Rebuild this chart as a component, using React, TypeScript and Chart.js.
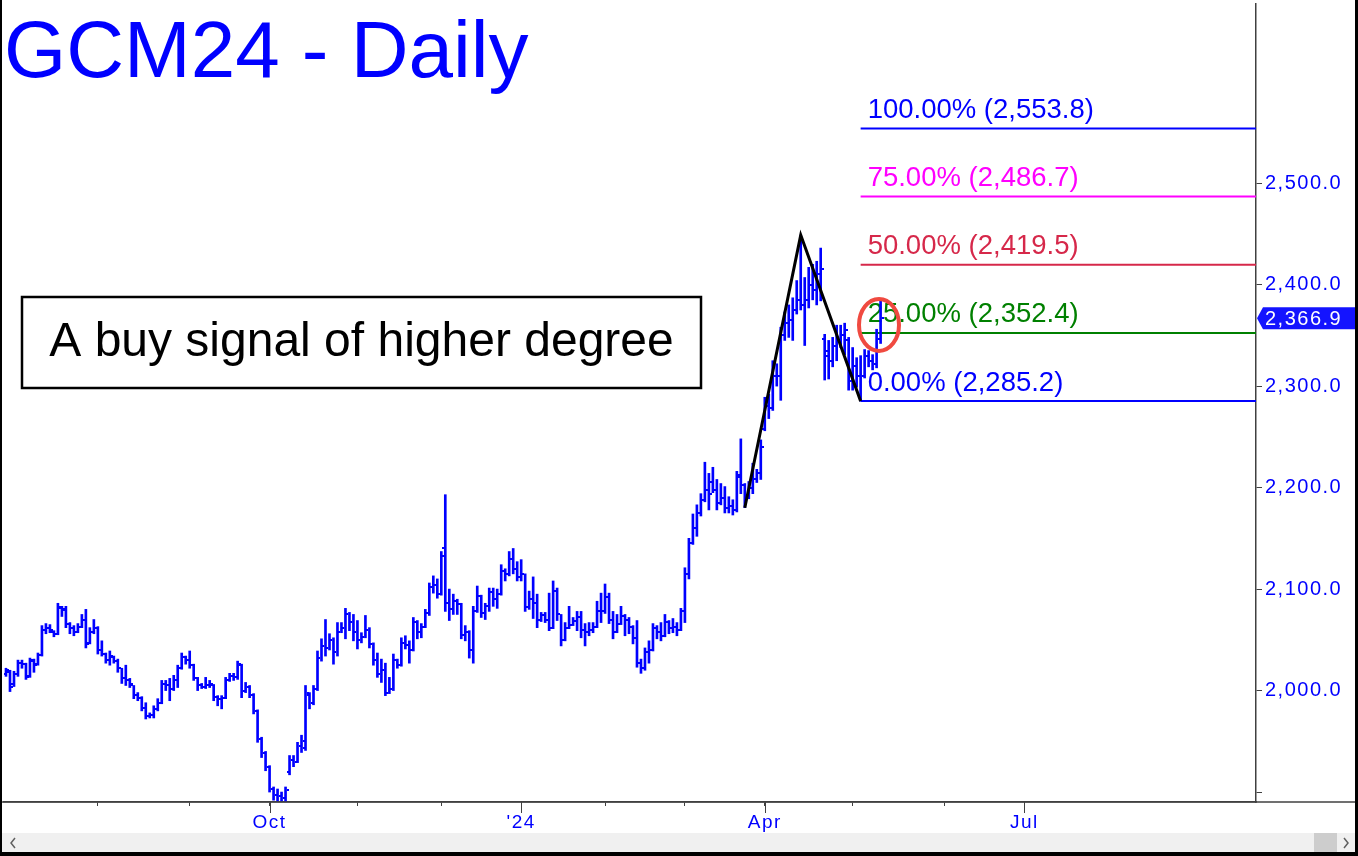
import React, { useEffect, useRef } from 'react';
import { Chart, registerables } from 'chart.js';

Chart.register(...registerables);

const BLUE = '#0000ff';
const AXIS = '#404040';

// Daily OHLC bars, index 0 = 2023-06-28 ... index 219 = 2024-05-10
const opens = [
  2016,2018,2006,2016,2027,2026,2014,2029,2026,2035,
  2060,2062,2058,2056,2081,2079,2066,2062,2058,2063,
  2070,2047,2058,2062,2040,2036,2030,2033,2029,2022,
  2012,2010,2005,1996,1993,1983,1975,1976,1982,1988,
  2006,2005,2002,2010,2022,2033,2030,2025,2012,2005,
  2004,2005,2005,1994,1992,1993,2010,2014,2013,2025,
  2000,2004,1996,1980,1952,1938,1925,1903,1897,1896,
  1894,1920,1932,1930,1945,1943,1996,1988,2002,2032,
  2044,2042,2050,2038,2058,2062,2075,2068,2058,2050,
  2053,2060,2046,2030,2016,2020,1998,2002,2030,2025,
  2047,2045,2040,2068,2058,2063,2076,2102,2104,2095,
  2140,2086,2080,2088,2085,2055,2058,2040,2078,2093,
  2076,2083,2097,2090,2095,2118,2115,2130,2120,2112,
  2115,2082,2090,2086,2070,2074,2070,2062,2098,2075,
  2050,2062,2065,2069,2072,2060,2058,2060,2063,2078,
  2078,2092,2070,2058,2066,2073,2070,2063,2052,2027,
  2022,2038,2040,2062,2058,2054,2068,2062,2063,2060,
  2078,2115,2145,2160,2175,2188,2198,2206,2198,2185,
  2190,2180,2182,2178,2212,2203,2190,2200,2208,2214,
  2258,2280,2278,2310,2310,2350,2362,2365,2375,2385,
  2380,2385,2400,2395,2410,2346,2330,2325,2340,2345,
  2350,2345,2305,2320,2310,2310,2330,2325,2322,2346,
];
const highs = [
  2022,2020,2019,2030,2030,2027,2032,2031,2037,2064,
  2066,2065,2059,2086,2083,2083,2067,2064,2066,2075,
  2080,2062,2070,2063,2049,2037,2039,2034,2031,2022,
  2025,2012,2005,1998,1994,1988,1978,1985,1992,2010,
  2010,2012,2015,2025,2037,2034,2039,2026,2013,2007,
  2013,2010,2006,1995,1995,2013,2017,2017,2029,2026,
  2008,2005,1997,1981,1954,1940,1926,1905,1903,1900,
  1905,1936,1936,1949,1956,2005,1998,2005,2039,2051,
  2070,2056,2052,2067,2067,2081,2077,2075,2069,2057,
  2074,2062,2047,2037,2031,2027,2013,2036,2031,2052,
  2054,2049,2072,2069,2066,2080,2106,2113,2110,2137,
  2193,2100,2095,2090,2086,2064,2059,2083,2103,2094,
  2086,2101,2101,2100,2124,2120,2137,2140,2127,2129,
  2115,2098,2112,2095,2077,2077,2096,2108,2101,2075,
  2067,2083,2072,2078,2078,2066,2067,2067,2088,2096,
  2105,2096,2078,2075,2083,2075,2072,2064,2069,2031,
  2042,2049,2066,2064,2067,2075,2069,2071,2067,2081,
  2121,2150,2174,2183,2194,2225,2214,2220,2208,2204,
  2201,2191,2188,2216,2248,2204,2206,2224,2218,2247,
  2289,2292,2325,2322,2358,2373,2380,2387,2404,2448.8,
  2407,2417,2420,2423,2436,2351,2345,2348,2360,2360,
  2362,2348,2338,2328,2330,2336,2335,2331,2356,2385,
];
const lows = [
  2014,1999,2004,2014,2022,2011,2013,2018,2025,2034,
  2056,2057,2053,2055,2073,2062,2056,2054,2057,2062,
  2042,2046,2056,2036,2034,2027,2025,2027,2018,2007,
  2005,2003,1992,1990,1980,1972,1973,1973,1980,1987,
  2000,1990,2000,2003,2021,2026,2022,2010,2000,2002,
  2002,2003,1990,1985,1982,1992,2009,2010,2011,1993,
  1998,1993,1977,1949,1934,1921,1900,1892,1891,1891,
  1890,1917,1925,1929,1939,1941,1982,1986,2000,2029,
  2034,2040,2026,2034,2057,2051,2059,2049,2041,2047,
  2052,2042,2025,2013,2008,1995,1997,2000,2022,2024,
  2041,2027,2039,2051,2052,2062,2074,2096,2091,2094,
  2078,2069,2075,2075,2051,2049,2032,2027,2077,2072,
  2070,2078,2083,2081,2094,2108,2113,2115,2108,2108,
  2078,2080,2071,2062,2068,2067,2059,2061,2069,2044,
  2049,2061,2064,2059,2052,2044,2054,2057,2062,2067,
  2076,2066,2051,2057,2065,2054,2056,2046,2023,2017,
  2020,2027,2039,2051,2049,2053,2056,2057,2054,2059,
  2067,2110,2144,2152,2172,2186,2178,2195,2178,2183,
  2175,2175,2173,2176,2194,2180.2,2189,2194,2205,2208,
  2256,2268,2276,2300,2286,2345,2348,2345,2371,2375,
  2340,2377,2385,2380,2384,2306,2307,2319,2325,2338,
  2331,2296,2296,2299,2285.2,2308,2319,2316,2318,2342,
];
const closes = [
  2020,2004,2016,2027,2026,2013,2030,2025,2035,2060,
  2062,2060,2056,2082,2080,2066,2062,2058,2063,2070,
  2046,2058,2062,2040,2036,2030,2034,2029,2022,2012,
  2010,2006,1996,1993,1983,1975,1976,1982,1988,2006,
  2005,2002,2010,2022,2033,2030,2025,2012,2005,2004,
  2005,2006,1994,1992,1993,2010,2014,2013,2026,2000,
  2004,1996,1980,1952,1938,1925,1903,1897,1896,1894,
  1902,1932,1930,1945,1950,1998,1988,2002,2032,2044,
  2042,2050,2038,2058,2062,2075,2068,2058,2050,2053,
  2060,2046,2030,2016,2020,1998,2002,2030,2025,2047,
  2045,2040,2068,2058,2063,2076,2102,2104,2095,2133,
  2086,2080,2088,2085,2055,2058,2040,2078,2093,2076,
  2083,2097,2090,2095,2118,2115,2130,2120,2112,2115,
  2082,2090,2086,2070,2074,2070,2062,2098,2075,2050,
  2062,2065,2069,2072,2060,2058,2060,2063,2078,2078,
  2092,2070,2058,2066,2073,2070,2063,2052,2027,2022,
  2038,2040,2062,2058,2054,2068,2062,2063,2060,2078,
  2115,2145,2160,2175,2188,2198,2194,2198,2185,2190,
  2180,2182,2178,2210,2203,2190,2200,2208,2214,2240,
  2280,2278,2310,2310,2350,2362,2365,2375,2385,2380,
  2385,2400,2395,2410,2415,2335,2325,2340,2345,2350,
  2355,2305,2320,2310,2310,2330,2325,2322,2346,2366.9,
];

// x axis: month starts (trading-day index) and their labels
const monthTickIdx = [23, 46, 66, 88, 109, 129, 150, 170, 190, 212, 235, 255];
const monthTickLabels = ['', '', 'Oct', '', '', "'24", '', '', 'Apr', '', '', 'Jul'];
const yTickValues = [1900, 2000, 2100, 2200, 2300, 2400, 2500];

// Fibonacci-style target levels
const fibPct = ['100.00%', '75.00%', '50.00%', '25.00%', '0.00%'];
const fibVal = [2553.8, 2486.7, 2419.5, 2352.4, 2285.2];
const fibColor = ['#0000ff', '#ff00ff', '#d6284a', '#008000', '#0000ff'];
const FIB_START = 214;

// ABC swing line
const zigIdx = [185, 199, 214];
const zigVal = [2180.2, 2448.8, 2285.2];

const lastPrice = 2366.9;
const ellipseIdx = 218.6;
const ellipseVal = 2360.3;

const titleText = 'GCM24 - Daily';
const boxText = 'A buy signal of higher degree';

const X_MIN = -0.5;
const X_MAX = 313;
const Y_MIN = 1890.2;
const Y_MAX = 2676.5;

const fmt = (v: number) =>
  v.toLocaleString('en-US', { minimumFractionDigits: 1, maximumFractionDigits: 1 });

export default function App() {
  const ref = useRef<HTMLCanvasElement>(null);

  useEffect(() => {
    document.body.style.margin = '0';
    const canvas = ref.current;
    if (!canvas) return;

    const mkTick = (left: boolean) => {
      const c = document.createElement('canvas');
      c.width = 6;
      c.height = 2;
      const g = c.getContext('2d')!;
      g.fillStyle = BLUE;
      g.fillRect(left ? 0 : 4, 0, 2, 2);
      return c;
    };
    const openImg = mkTick(true);
    const closeImg = mkTick(false);

    const overlay = {
      id: 'overlay',
      beforeDraw(chart: any) {
        // axis tick labels are drawn a little wider-spaced, as in the original
        chart.ctx.letterSpacing = '1.5px';
      },
      beforeDatasetsDraw(chart: any) {
        const { ctx, scales } = chart;
        ctx.letterSpacing = '0px';
        const x = scales.x;
        const y = scales.y;
        ctx.save();
        ctx.font = '27.5px "Liberation Sans"';
        ctx.textBaseline = 'alphabetic';
        ctx.textAlign = 'left';
        fibVal.forEach((v, k) => {
          ctx.fillStyle = fibColor[k];
          ctx.fillText(`${fibPct[k]} (${fmt(v)})`, x.getPixelForValue(FIB_START) + 7, y.getPixelForValue(v) - 10.5);
        });
        ctx.restore();
        ctx.imageSmoothingEnabled = false;
      },
      afterDatasetsDraw(chart: any) {
        const { ctx, scales } = chart;
        const cx = scales.x.getPixelForValue(ellipseIdx);
        const cy = scales.y.getPixelForValue(ellipseVal);
        ctx.save();
        ctx.strokeStyle = '#f04a40';
        ctx.lineWidth = 4;
        ctx.beginPath();
        ctx.ellipse(cx, cy, 20, 26, 0, 0, Math.PI * 2);
        ctx.stroke();
        ctx.restore();
      },
      afterDraw(chart: any) {
        const { ctx, scales, chartArea } = chart;
        const x = scales.x;
        const y = scales.y;
        const W = chart.width;
        const H = chart.height;
        ctx.save();
        ctx.letterSpacing = '0px';
        // axis line extension to the right edge
        ctx.strokeStyle = AXIS;
        ctx.lineWidth = 1.5;
        ctx.beginPath();
        ctx.moveTo(0, chartArea.bottom);
        ctx.lineTo(W, chartArea.bottom);
        ctx.stroke();
        // longer ticks for labelled months
        ctx.lineWidth = 1;
        monthTickIdx.forEach((m, k) => {
          if (!monthTickLabels[k]) return;
          const px = Math.round(x.getPixelForValue(m)) + 0.5;
          ctx.beginPath();
          ctx.moveTo(px, chartArea.bottom);
          ctx.lineTo(px, chartArea.bottom + 11);
          ctx.stroke();
        });
        // title
        ctx.fillStyle = BLUE;
        ctx.font = '80px "Liberation Sans"';
        ctx.textAlign = 'left';
        ctx.textBaseline = 'alphabetic';
        ctx.fillText(titleText, 4, 77);
        // comment box
        ctx.fillStyle = '#ffffff';
        ctx.fillRect(22, 297, 679, 91);
        ctx.strokeStyle = '#000000';
        ctx.lineWidth = 2.5;
        ctx.strokeRect(22, 297, 679, 91);
        ctx.fillStyle = '#000000';
        ctx.font = '48px "Liberation Sans"';
        ctx.textAlign = 'center';
        ctx.fillText(boxText, 361.5, 356);
        // last price tag
        const ty = y.getPixelForValue(lastPrice);
        const ax = chartArea.right + 1;
        ctx.fillStyle = '#1414ff';
        ctx.beginPath();
        ctx.moveTo(ax, ty);
        ctx.lineTo(ax + 6, ty - 11);
        ctx.lineTo(W - 3, ty - 11);
        ctx.lineTo(W - 3, ty + 11);
        ctx.lineTo(ax + 6, ty + 11);
        ctx.closePath();
        ctx.fill();
        ctx.fillStyle = '#ffffff';
        ctx.font = '20px "Liberation Sans"';
        ctx.letterSpacing = '1.5px';
        ctx.textAlign = 'left';
        ctx.textBaseline = 'middle';
        ctx.fillText(fmt(lastPrice), ax + 8, ty + 1);
        ctx.letterSpacing = '0px';
        // scroll bar
        ctx.fillStyle = '#f0f0f0';
        ctx.fillRect(2, 833, W - 5, 20);
        ctx.fillStyle = '#cdcdcd';
        ctx.fillRect(1314, 833, 23, 20);
        ctx.strokeStyle = '#606060';
        ctx.lineWidth = 1.5;
        ctx.beginPath();
        ctx.moveTo(15, 838); ctx.lineTo(11, 843); ctx.lineTo(15, 848);
        ctx.moveTo(1344, 838); ctx.lineTo(1348, 843); ctx.lineTo(1344, 848);
        ctx.stroke();
        // outer frame
        ctx.fillStyle = '#000000';
        ctx.fillRect(0, 0, 2, H);
        ctx.fillRect(W - 3, 0, 3, H);
        ctx.fillRect(0, H - 4, W, 4);
        ctx.restore();
      },
    };

    const chart = new Chart(canvas, {
      type: 'bar',
      data: {
        datasets: [
          ...fibVal.map((v, k) => ({
            type: 'line' as const,
            data: [{ x: FIB_START, y: v }, { x: X_MAX, y: v }],
            borderColor: fibColor[k],
            borderWidth: 2,
            pointRadius: 0,
            order: 10,
          })),
          {
            type: 'bar' as const,
            data: highs.map((h, i) => ({ x: i, y: [lows[i], h] })),
            backgroundColor: BLUE,
            borderWidth: 0,
            barThickness: 2,
            order: 5,
          },
          {
            type: 'scatter' as const,
            data: opens.map((o, i) => ({ x: i, y: o })),
            pointStyle: openImg,
            pointRadius: 3,
            pointHoverRadius: 3,
            order: 4,
          },
          {
            type: 'scatter' as const,
            data: closes.map((c, i) => ({ x: i, y: c })),
            pointStyle: closeImg,
            pointRadius: 3,
            pointHoverRadius: 3,
            order: 4,
          },
          {
            type: 'line' as const,
            data: zigIdx.map((ix, k) => ({ x: ix, y: zigVal[k] })),
            borderColor: '#000000',
            borderWidth: 3,
            pointRadius: 0,
            tension: 0,
            order: 1,
          },
        ] as any,
      },
      options: {
        animation: false,
        responsive: false,
        devicePixelRatio: 1,
        events: [],
        layout: { padding: { left: 2, right: 0, top: 0, bottom: 0 } },
        plugins: {
          legend: { display: false },
          tooltip: { enabled: false },
          title: { display: false },
        },
        scales: {
          x: {
            type: 'linear',
            position: 'bottom',
            min: X_MIN,
            max: X_MAX,
            offset: false,
            grid: { display: true, drawOnChartArea: false, drawTicks: true, tickLength: 4, color: AXIS, offset: false },
            border: { display: true, color: AXIS, width: 1.5 },
            ticks: {
              autoSkip: false,
              maxRotation: 0,
              minRotation: 0,
              padding: 5,
              color: BLUE,
              font: { family: '"Liberation Sans"', size: 19 },
              callback: (_v: any, idx: number) => monthTickLabels[idx] ?? '',
            },
            afterBuildTicks: (s: any) => {
              s.ticks = monthTickIdx.map((v) => ({ value: v }));
            },
            afterFit: (s: any) => {
              s.height = 54;
              s.paddingLeft = 0;
              s.paddingRight = 0;
            },
          },
          y: {
            type: 'linear',
            position: 'right',
            min: Y_MIN,
            max: Y_MAX,
            grid: { display: true, drawOnChartArea: false, drawTicks: true, tickLength: 6, color: AXIS },
            border: { display: true, color: AXIS, width: 1.5 },
            ticks: {
              autoSkip: false,
              padding: 3,
              color: BLUE,
              font: { family: '"Liberation Sans"', size: 20 },
              callback: (v: any) => (Number(v) === yTickValues[0] ? '' : fmt(Number(v))),
            },
            afterBuildTicks: (s: any) => {
              s.ticks = yTickValues.map((v) => ({ value: v }));
            },
            afterFit: (s: any) => {
              s.width = 102;
              s.paddingTop = 0;
              s.paddingBottom = 0;
            },
          },
        },
      } as any,
      plugins: [overlay],
    });

    return () => chart.destroy();
  }, []);

  return <canvas ref={ref} width={1358} height={856} style={{ display: 'block' }} />;
}
